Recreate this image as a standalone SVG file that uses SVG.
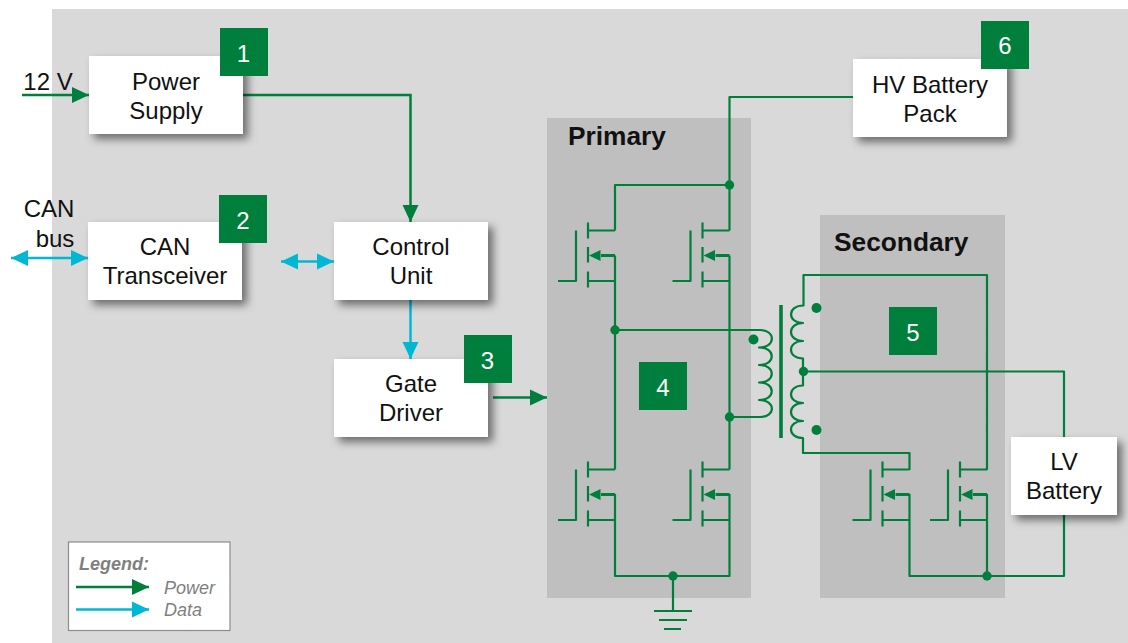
<svg xmlns="http://www.w3.org/2000/svg" xmlns:xlink="http://www.w3.org/1999/xlink" width="1128" height="643" viewBox="0 0 1128 643">
<style>
text{font-family:"Liberation Sans",Arial,sans-serif;font-size:24px;fill:#111;text-anchor:middle}
.box{fill:#fff;filter:url(#sh)}
.badge{fill:#007f3c}
.badge+text{fill:#fff}
.w{fill:none;stroke:#007f3c;stroke-width:2.2;stroke-linejoin:round}
.p{fill:none;stroke:#007f3c;stroke-width:2.5}
.d{fill:none;stroke:#00b8d4;stroke-width:2.5}
.dot{fill:#007f3c}
.title{font-weight:bold;font-size:26.3px;text-anchor:start}
.lg{font-style:italic;font-size:18px;fill:#7f7f7f;text-anchor:start}
</style>
<defs>
<filter id="sh" x="-20%" y="-20%" width="150%" height="150%"><feDropShadow dx="5" dy="5" stdDeviation="4.500" flood-color="#000" flood-opacity="0.5"/></filter>
<marker id="ag" markerUnits="userSpaceOnUse" markerWidth="17" markerHeight="17" refX="17" refY="8.500" orient="auto-start-reverse"><path d="M0,0.500L17,8.500L0,16.500z" fill="#007f3c"/></marker>
<marker id="ac" markerUnits="userSpaceOnUse" markerWidth="17" markerHeight="17" refX="17" refY="8.500" orient="auto-start-reverse"><path d="M0,0.500L17,8.500L0,16.500z" fill="#00b8d4"/></marker>
<g id="fet">
<path class="w" d="M-27,-8V8M-27,16.500V32M-27,41V57M0,0H-27M0,50.500H-27M-39,0V50.500H-57"/>
<path class="w" style="stroke-width:3" d="M0,25H-14"/>
<path class="dot" d="M-26,25L-14.500,19.500V30.500z"/>
</g>
</defs>
<rect x="52" y="9" width="1076" height="634" fill="#d9d9d9"/>
<rect id="primary-panel" x="547" y="118" width="204" height="480" fill="#bfbfbf"/>
<rect id="secondary-panel" x="820" y="215" width="185" height="383" fill="#bfbfbf"/>
<text class="title" x="568" y="145">Primary</text>
<text class="title" x="834" y="251">Secondary</text>
<g id="connectors">
<path class="p" d="M22,95H89" marker-end="url(#ag)"/>
<path class="p" d="M243,95H410.500V222" marker-end="url(#ag)"/>
<path class="d" d="M11,258H88" marker-start="url(#ac)" marker-end="url(#ac)"/>
<path class="d" d="M281,261.500H334" marker-start="url(#ac)" marker-end="url(#ac)"/>
<path class="d" d="M410.500,300V359" marker-end="url(#ac)"/>
<path class="p" d="M493,397.500H547" marker-end="url(#ag)"/>
<path class="w" d="M853,97H729.500V230.500M729.500,185H615V230.500"/>
<path class="w" d="M615,255.500V469.500M729.500,255.500V469.500M615,494V576H729.500V494"/>
<path class="w" d="M673,576V611M654,611H692M659,620H687M664,629H681"/>
<path class="w" d="M615,330H760C776,330 776,347.500 759,347.500C776,347.500 776,365 759,365C776,365 776,382.500 759,382.500C776,382.500 776,400 759,400C776,400 776,417 760,417H729.500"/>
<path d="M781,305V438" fill="none" stroke="#007f3c" stroke-width="3.600"/>
<path class="w" d="M987,470V275H803.500V305.500C787,305.500 787,323 803,323C787,323 787,341 803,341C787,341 787,358.500 803,358.500V385.500C787,385.500 787,403 803,403C787,403 787,421 803,421C787,421 787,438 803,438V453H909.500V470"/>
<path class="w" d="M803,371.500H1064V437"/>
<path class="w" d="M909.500,494V576H1064V515M987,494V576"/>
<circle class="dot" cx="729.500" cy="185" r="4.700"/>
<circle class="dot" cx="615" cy="330" r="4.700"/>
<circle class="dot" cx="729.500" cy="417" r="4.700"/>
<circle class="dot" cx="673" cy="576" r="4.700"/>
<circle class="dot" cx="987" cy="576" r="4.700"/>
<circle class="dot" cx="803.500" cy="371.500" r="4.700"/>
<circle class="dot" cx="753.500" cy="339.500" r="5"/>
<circle class="dot" cx="816.500" cy="308" r="5"/>
<circle class="dot" cx="816.500" cy="430" r="5"/>
</g>
<g id="mosfets">
<use xlink:href="#fet" href="#fet" x="615" y="230.500"/>
<use xlink:href="#fet" href="#fet" x="729.500" y="230.500"/>
<use xlink:href="#fet" href="#fet" x="615" y="469.500"/>
<use xlink:href="#fet" href="#fet" x="729.500" y="469.500"/>
<use xlink:href="#fet" href="#fet" x="909.500" y="469.500"/>
<use xlink:href="#fet" href="#fet" x="987" y="469.500"/>
</g>
<g id="ext-labels">
<text x="48" y="90">12 V</text>
<text x="49" y="217">CAN</text>
<text x="55" y="247">bus</text>
</g>
<g id="power-supply"><rect class="box" x="89" y="56" width="154" height="78"/><text x="166" y="90">Power</text><text x="166" y="119">Supply</text></g>
<g id="can-transceiver"><rect class="box" x="88" y="222" width="154" height="78"/><text x="165" y="255">CAN</text><text x="165" y="284">Transceiver</text></g>
<g id="control-unit"><rect class="box" x="334" y="222" width="154" height="78"/><text x="411" y="255">Control</text><text x="411" y="284">Unit</text></g>
<g id="gate-driver"><rect class="box" x="334" y="359" width="154" height="78"/><text x="411" y="392">Gate</text><text x="411" y="421">Driver</text></g>
<g id="hv-battery"><rect class="box" x="853" y="59" width="154" height="78"/><text x="930" y="93">HV Battery</text><text x="930" y="122">Pack</text></g>
<g id="lv-battery"><rect class="box" x="1011" y="437" width="106" height="78"/><text x="1064" y="470">LV</text><text x="1064" y="499">Battery</text></g>
<g id="badge-1"><rect class="badge" x="220" y="28" width="48" height="48"/><text x="243.500" y="62">1</text></g>
<g id="badge-2"><rect class="badge" x="219" y="195" width="48" height="48"/><text x="243" y="229">2</text></g>
<g id="badge-3"><rect class="badge" x="464" y="335" width="48" height="48"/><text x="487.500" y="369">3</text></g>
<g id="badge-4"><rect class="badge" x="639" y="362" width="48" height="48"/><text x="663" y="396">4</text></g>
<g id="badge-5"><rect class="badge" x="889" y="307" width="48" height="48"/><text x="913" y="341">5</text></g>
<g id="badge-6"><rect class="badge" x="981" y="21" width="48" height="48"/><text x="1005" y="54">6</text></g>
<g id="legend">
<rect x="68.500" y="542" width="161.500" height="88.500" fill="#fff" stroke="#8c8c8c" stroke-width="1.200"/>
<text class="lg" x="79" y="570" style="font-weight:bold">Legend:</text>
<path class="p" d="M76,587H149" marker-end="url(#ag)"/>
<path class="d" d="M76,609.500H149" marker-end="url(#ac)"/>
<text class="lg" x="164" y="594">Power</text>
<text class="lg" x="164" y="616">Data</text>
</g>
</svg>
